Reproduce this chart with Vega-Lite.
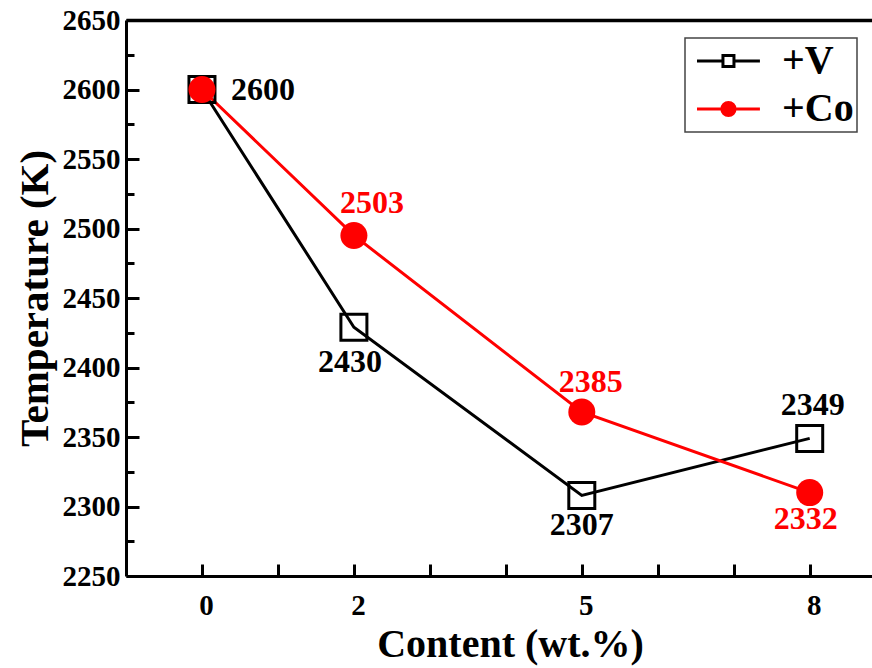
{
  "$schema": "https://vega.github.io/schema/vega-lite/v6.json",
  "width": 746,
  "height": 556,
  "autosize": {"type": "none"},
  "padding": {"left": 126, "top": 20, "right": 0, "bottom": 92},
  "background": "white",
  "config": {
    "view": {"stroke": null},
    "font": "Liberation Serif",
    "axis": {"grid": false, "labelColor": "black", "titleColor": "black", "tickColor": "black", "domainColor": "black", "labelFontWeight": "bold", "titleFontWeight": "bold"},
    "legend": {"title": null, "orient": "none", "legendX": 559, "legendY": 18, "padding": 3, "strokeColor": "#444", "strokeWidth": 1.5,
      "symbolSize": 484, "symbolStrokeWidth": 3, "symbolOpacity": 1, "labelFontSize": 40, "labelFontWeight": "bold",
      "labelColor": "black", "labelOffset": 54, "rowPadding": 8, "labelFont": "Liberation Serif"}
  },
  "data": {
    "values": [
      {"content": 0, "temp": 2600, "series": "+V", "label": "2600"},
      {"content": 2, "temp": 2429, "series": "+V", "label": "2430"},
      {"content": 5, "temp": 2308, "series": "+V", "label": "2307"},
      {"content": 8, "temp": 2349, "series": "+V", "label": "2349"},
      {"content": 0, "temp": 2600, "series": "+Co", "label": ""},
      {"content": 2, "temp": 2495, "series": "+Co", "label": "2503"},
      {"content": 5, "temp": 2368, "series": "+Co", "label": "2385"},
      {"content": 8, "temp": 2310, "series": "+Co", "label": "2332"}
    ]
  },
  "encoding": {
    "x": {"field": "content", "type": "quantitative", "scale": {"domain": [-1, 8.82], "nice": false, "zero": false}, "axis": null},
    "y": {"field": "temp", "type": "quantitative", "scale": {"domain": [2250, 2650], "nice": false, "zero": false}, "axis": null}
  },
  "layer": [
    {
      "mark": {"type": "line", "strokeWidth": 3},
      "encoding": {
        "x": {"field": "content", "type": "quantitative", "scale": {"domain": [-1, 8.82], "nice": false, "zero": false},
          "axis": {"orient": "bottom", "values": [0, 1, 2, 3, 4, 5, 6, 7, 8],
            "labelExpr": "datum.value == 0 || datum.value == 2 || datum.value == 5 || datum.value == 8 ? datum.label : ''",
            "tickSize": -12, "tickWidth": 3, "domainWidth": 3, "labelFontSize": 29, "labelFontWeight": "bold",
            "labelPadding": 27, "labelOffset": 4, "title": "Content (wt.%)", "titleFontSize": 40, "titleFontWeight": "bold", "titlePadding": 4, "titleX": 384}},
        "y": {"field": "temp", "type": "quantitative", "scale": {"domain": [2250, 2650], "nice": false, "zero": false},
          "axis": {"orient": "left", "values": [2250, 2300, 2350, 2400, 2450, 2500, 2550, 2600, 2650], "format": "d",
            "tickSize": -13, "tickWidth": 3, "domainWidth": 3, "labelFontSize": 29, "labelFontWeight": "bold",
            "labelPadding": 19, "title": "Temperature (K)", "titleFontSize": 41, "titleFontWeight": "bold", "titlePadding": 6}},
        "color": {"field": "series", "type": "nominal", "scale": {"domain": ["+Co", "+V"], "range": ["red", "black"]}, "legend": null}
      }
    },
    {
      "transform": [{"filter": "datum.series == '+V'"}],
      "mark": {"type": "point", "shape": "square", "filled": false, "stroke": "black", "strokeWidth": 3, "size": 676, "opacity": 1},
      "encoding": {
        "x": {"field": "content", "type": "quantitative", "scale": {"domain": [-1, 8.82], "nice": false, "zero": false},
          "axis": {"orient": "top", "domain": true, "domainWidth": 3.5, "ticks": false, "labels": false, "title": null}},
        "y": {"field": "temp", "type": "quantitative", "scale": {"domain": [2250, 2650], "nice": false, "zero": false},
          "axis": {"orient": "left", "values": [2275, 2325, 2375, 2425, 2475, 2525, 2575, 2625],
            "tickSize": -8, "tickWidth": 3, "domain": false, "labels": false, "title": null}}
      }
    },
    {
      "transform": [{"filter": "datum.series == '+Co'"}],
      "mark": {"type": "point", "shape": "circle", "filled": true, "fill": "red", "size": 729, "opacity": 1}
    },
    {
      "mark": {"type": "point", "opacity": 0, "strokeWidth": 3},
      "encoding": {
        "shape": {"field": "series", "type": "nominal", "scale": {"domain": ["+V", "+Co"],
          "range": ["M-1,0H1.36M2.36,0H4.72M1.36,-0.5H2.36V0.5H1.36Z", "M-1,0H4.72M1.26,0A0.6,0.6,0,1,0,2.46,0A0.6,0.6,0,1,0,1.26,0Z"]}},
        "fill": {"field": "series", "type": "nominal", "scale": {"domain": ["+V", "+Co"], "range": ["white", "red"]}},
        "stroke": {"field": "series", "type": "nominal", "scale": {"domain": ["+V", "+Co"], "range": ["black", "red"]}}
      }
    },
    {
      "transform": [{"filter": "datum.series == '+V' && datum.content == 0"}],
      "mark": {"type": "text", "fontSize": 32, "fontWeight": "bold", "color": "black", "dx": 61, "dy": 0},
      "encoding": {"text": {"field": "label"}}
    },
    {
      "transform": [{"filter": "datum.series == '+V' && datum.content == 2"}],
      "mark": {"type": "text", "fontSize": 32, "fontWeight": "bold", "color": "black", "dx": -4, "dy": 35},
      "encoding": {"text": {"field": "label"}}
    },
    {
      "transform": [{"filter": "datum.series == '+V' && datum.content == 5"}],
      "mark": {"type": "text", "fontSize": 32, "fontWeight": "bold", "color": "black", "dx": 0, "dy": 30},
      "encoding": {"text": {"field": "label"}}
    },
    {
      "transform": [{"filter": "datum.series == '+V' && datum.content == 8"}],
      "mark": {"type": "text", "fontSize": 32, "fontWeight": "bold", "color": "black", "dx": 3, "dy": -33},
      "encoding": {"text": {"field": "label"}}
    },
    {
      "transform": [{"filter": "datum.series == '+Co' && datum.content == 2"}],
      "mark": {"type": "text", "fontSize": 32, "fontWeight": "bold", "color": "red", "dx": 18, "dy": -32},
      "encoding": {"text": {"field": "label"}}
    },
    {
      "transform": [{"filter": "datum.series == '+Co' && datum.content == 5"}],
      "mark": {"type": "text", "fontSize": 32, "fontWeight": "bold", "color": "red", "dx": 9, "dy": -30},
      "encoding": {"text": {"field": "label"}}
    },
    {
      "transform": [{"filter": "datum.series == '+Co' && datum.content == 8"}],
      "mark": {"type": "text", "fontSize": 32, "fontWeight": "bold", "color": "red", "dx": -4, "dy": 26},
      "encoding": {"text": {"field": "label"}}
    }
  ],
  "resolve": {"axis": {"x": "independent", "y": "independent"}}
}
